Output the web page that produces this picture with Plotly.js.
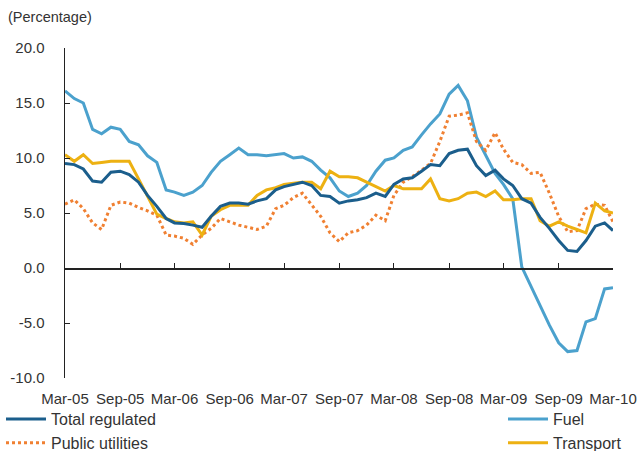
<!DOCTYPE html>
<html>
<head>
<meta charset="utf-8">
<script src="https://cdn.plot.ly/plotly-3.0.1.min.js"></script>
<style>
html,body{margin:0;padding:0;background:#fff;}
#chart{width:640px;height:451px;}
</style>
</head>
<body>
<div id="chart"></div>
<script>
var months = [
 "2005-03-01","2005-04-01","2005-05-01","2005-06-01","2005-07-01","2005-08-01","2005-09-01","2005-10-01","2005-11-01","2005-12-01","2006-01-01","2006-02-01",
 "2006-03-01","2006-04-01","2006-05-01","2006-06-01","2006-07-01","2006-08-01","2006-09-01","2006-10-01","2006-11-01","2006-12-01","2007-01-01","2007-02-01",
 "2007-03-01","2007-04-01","2007-05-01","2007-06-01","2007-07-01","2007-08-01","2007-09-01","2007-10-01","2007-11-01","2007-12-01","2008-01-01","2008-02-01",
 "2008-03-01","2008-04-01","2008-05-01","2008-06-01","2008-07-01","2008-08-01","2008-09-01","2008-10-01","2008-11-01","2008-12-01","2009-01-01","2009-02-01",
 "2009-03-01","2009-04-01","2009-05-01","2009-06-01","2009-07-01","2009-08-01","2009-09-01","2009-10-01","2009-11-01","2009-12-01","2010-01-01","2010-02-01",
 "2010-03-01"
];

var totalRegulated = [
 9.5, 9.4, 9.0, 7.9, 7.8, 8.7, 8.8, 8.5, 7.8, 6.6, 5.6, 4.5,
 4.1, 4.05, 3.9, 3.7, 4.7, 5.6, 5.9, 5.9, 5.8, 6.1, 6.3, 7.1,
 7.4, 7.6, 7.8, 7.5, 6.6, 6.5, 5.9, 6.1, 6.2, 6.4, 6.8, 6.5,
 7.6, 8.1, 8.2, 8.8, 9.4, 9.3, 10.4, 10.7, 10.8, 9.3, 8.4, 8.9,
 8.1, 7.5, 6.3, 5.9, 4.6, 3.6, 2.5, 1.6, 1.5, 2.5, 3.8, 4.1,
 3.4
];

var fuel = [
 16.1, 15.4, 15.0, 12.6, 12.2, 12.8, 12.6, 11.5, 11.2, 10.2, 9.6, 7.1,
 6.9, 6.6, 6.9, 7.5, 8.7, 9.7, 10.3, 10.9, 10.3, 10.3, 10.2, 10.3,
 10.4, 10.0, 10.1, 9.7, 8.9, 8.2, 7.0, 6.5, 6.8, 7.5, 8.8, 9.8,
 10.0, 10.7, 11.0, 12.1, 13.1, 14.0, 15.8, 16.6, 15.2, 11.9, 10.3, 8.6,
 7.6, 6.3, 0.1, -1.7, -3.5, -5.2, -6.8, -7.6, -7.5, -4.9, -4.6, -1.9,
 -1.8
];

var publicUtilities = [
 5.8, 6.2, 5.4, 4.1, 3.5, 5.7, 6.0, 5.9, 5.5, 5.2, 4.8, 3.0,
 2.9, 2.7, 2.15, 3.0, 3.6, 4.5, 4.2, 3.9, 3.7, 3.5, 3.8, 5.4,
 5.7, 6.4, 6.8, 5.7, 4.7, 3.2, 2.4, 3.2, 3.4, 3.9, 4.8, 4.3,
 6.6, 7.8, 8.3, 8.9, 9.5, 11.5, 13.8, 13.9, 14.1, 11.5, 10.7, 12.3,
 10.8, 9.6, 9.4, 8.6, 8.7, 6.8, 4.7, 3.3, 3.4, 5.4, 5.8, 5.7,
 4.2
];

var transport = [
 10.3, 9.7, 10.3, 9.5, 9.6, 9.7, 9.7, 9.7, 8.1, 6.5, 4.9, 4.5,
 4.2, 4.1, 4.2, 3.0, 4.7, 5.3, 5.7, 5.7, 5.7, 6.6, 7.1, 7.3,
 7.6, 7.7, 7.8, 7.8, 7.2, 8.8, 8.3, 8.3, 8.2, 7.8, 7.4, 7.0,
 7.5, 7.2, 7.2, 7.2, 8.1, 6.3, 6.1, 6.3, 6.8, 6.9, 6.5, 7.0,
 6.2, 6.2, 6.3, 6.3, 4.3, 3.8, 4.2, 3.8, 3.5, 3.2, 5.9, 5.2,
 5.0
];

var xTickVals = ["2005-03-01","2005-09-01","2006-03-01","2006-09-01","2007-03-01","2007-09-01","2008-03-01","2008-09-01","2009-03-01","2009-09-01","2010-03-01"];
var xTickText = ["Mar-05","Sep-05","Mar-06","Sep-06","Mar-07","Sep-07","Mar-08","Sep-08","Mar-09","Sep-09","Mar-10"];
var yTickVals = [-10, -5, 0, 5, 10, 15, 20];
var yTickText = ["-10.0", "-5.0", "0.0", "5.0", "10.0", "15.0", "20.0"];

var FONT = '"Liberation Sans", Arial, sans-serif';
var TXT = '#333333';

var traces = [
 {x: months, y: fuel, name: 'Fuel', type: 'scatter', mode: 'lines',
  line: {color: '#4ba1cd', width: 3}, legend: 'legend2', legendrank: 1},
 {x: months, y: publicUtilities, name: 'Public utilities', type: 'scatter', mode: 'lines',
  line: {color: '#f08032', width: 3, dash: 'dot'}, legend: 'legend', legendrank: 2},
 {x: months, y: transport, name: 'Transport', type: 'scatter', mode: 'lines',
  line: {color: '#edb112', width: 3}, legend: 'legend2', legendrank: 2},
 {x: months, y: totalRegulated, name: 'Total regulated', type: 'scatter', mode: 'lines',
  line: {color: '#1b5e8c', width: 3}, legend: 'legend', legendrank: 1},
 {x: [months[0]], y: [null], type: 'scatter', mode: 'lines', xaxis: 'x2', showlegend: false, hoverinfo: 'skip'}
];

var legendFont = {family: FONT, size: 16, color: TXT};

var layout = {
 width: 640, height: 451,
 margin: {l: 65, r: 27, t: 48, b: 73, autoexpand: false},
 paper_bgcolor: '#ffffff', plot_bgcolor: '#ffffff',
 font: {family: FONT, size: 15, color: TXT},
 title: {text: '(Percentage)', x: 8/640, xanchor: 'left', xref: 'container',
         y: 1 - 17/451, yanchor: 'middle', yref: 'container',
         font: {family: FONT, size: 14.5, color: TXT}},
 xaxis: {
  type: 'date', range: ['2005-03-01', '2010-03-01'],
  tickmode: 'array', tickvals: xTickVals, ticktext: xTickText,
  showline: false, showgrid: false, zeroline: false, ticks: '',
  ticklabelstandoff: 10, tickfont: {family: FONT, size: 15, color: TXT}
 },
 xaxis2: {
  type: 'date', overlaying: 'x', matches: 'x', anchor: 'free', position: 1/3,
  range: ['2005-03-01', '2010-03-01'],
  tickmode: 'array', tickvals: xTickVals, showticklabels: false,
  showline: true, linecolor: '#222222', linewidth: 1.5,
  ticks: 'inside', ticklen: 5, tickcolor: '#222222', tickwidth: 1,
  showgrid: false, zeroline: false
 },
 yaxis: {
  range: [-10, 20], tickmode: 'array', tickvals: yTickVals, ticktext: yTickText,
  showline: true, linecolor: '#222222', linewidth: 1.5,
  ticks: 'inside', ticklen: 5, tickcolor: '#222222', tickwidth: 1,
  showgrid: false, zeroline: false,
  ticklabelstandoff: 16, tickfont: {family: FONT, size: 15, color: TXT}
 },
 showlegend: true,
 legend: {x: (1 - 65)/548, xanchor: 'left', y: (378 - 402)/330, yanchor: 'top',
          orientation: 'v', bgcolor: 'rgba(0,0,0,0)', itemwidth: 40,
          traceorder: 'normal', tracegroupgap: 0, font: legendFont},
 legend2: {x: (503 - 65)/548, xanchor: 'left', y: (378 - 402)/330, yanchor: 'top',
          orientation: 'v', bgcolor: 'rgba(0,0,0,0)', itemwidth: 40,
          traceorder: 'normal', tracegroupgap: 0, font: legendFont}
};

Plotly.newPlot('chart', traces, layout, {staticPlot: true, displayModeBar: false});
</script>
</body>
</html>
